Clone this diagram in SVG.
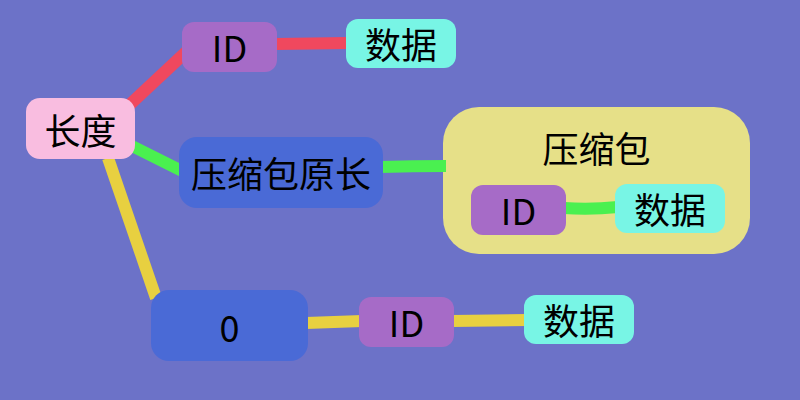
<svg xmlns="http://www.w3.org/2000/svg" width="800" height="400" viewBox="0 0 800 400">
<style>
text{font-family:"Noto Sans CJK SC","Noto Sans",sans-serif;font-size:36px;fill:#000;text-anchor:middle;dominant-baseline:central}
.c{fill:none;stroke-width:12;stroke-linecap:butt}
.r{stroke:#f0485e}.g{stroke:#4af050}.y{stroke:#e8d040}
.pink{fill:#f9bde0}.pur{fill:#a66bc7}.cyan{fill:#78f5e5}.blue{fill:#4a6ad6}.cont{fill:#e6e088}
</style>
<rect width="800" height="400" fill="#6c72c8"/>
<g id="n-pack"><rect class="cont" x="443" y="107" width="307" height="147" rx="36"/><text x="596.5" y="147">压缩包</text></g>
<g id="connectors">
<path class="c r" d="M124,110 L186,52"/>
<path class="c r" d="M275,44 L348,43"/>
<path class="c g" d="M132,146 L184,172"/>
<path class="c g" d="M381,167 Q412,166 446,166"/>
<path class="c y" d="M108,158 L156,298"/>
<path class="c y" d="M306,323 L362,321"/>
<path class="c y" d="M452,321 L527,320"/>
<path class="c g" d="M564,208 Q590,210 618,207"/>
</g>
<g id="n-len"><rect class="pink" x="26" y="98" width="109" height="61" rx="14"/><text x="80.5" y="128.5">长度</text></g>
<g id="n-id1"><rect class="pur" x="182" y="22" width="95" height="50" rx="12"/><text x="229.5" y="46">ID</text></g>
<g id="n-data1"><rect class="cyan" x="346" y="19" width="110" height="49" rx="12"/><text x="401" y="42.5">数据</text></g>
<g id="n-orig"><rect class="blue" x="179" y="137" width="204" height="71" rx="18"/><text x="281" y="172">压缩包原长</text></g>
<g id="n-id2"><rect class="pur" x="471" y="185" width="95" height="50" rx="12"/><text x="518.5" y="209">ID</text></g>
<g id="n-data2"><rect class="cyan" x="615" y="184" width="110" height="49" rx="12"/><text x="670" y="208">数据</text></g>
<g id="n-zero"><rect class="blue" x="151" y="290" width="157" height="71" rx="18"/><text x="229.5" y="326">0</text></g>
<g id="n-id3"><rect class="pur" x="359" y="297" width="95" height="50" rx="12"/><text x="406.5" y="321">ID</text></g>
<g id="n-data3"><rect class="cyan" x="524" y="295" width="110" height="49" rx="12"/><text x="579" y="319">数据</text></g>
</svg>
